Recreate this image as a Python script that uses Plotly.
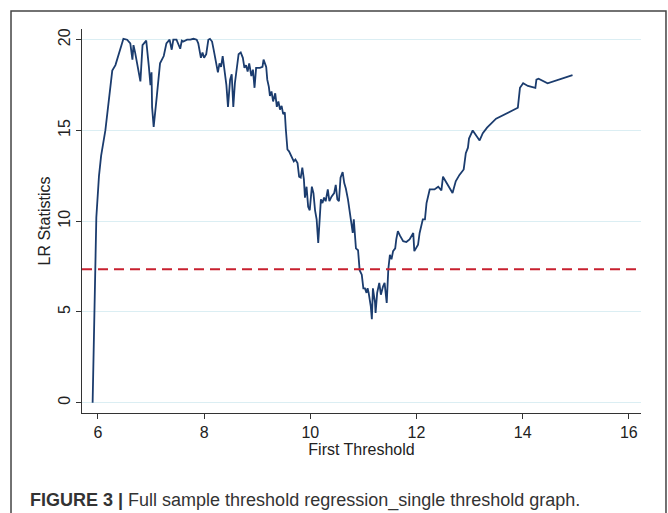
import plotly.graph_objects as go

threshold_x = [
    5.90, 5.92, 5.94, 5.97, 6.02, 6.06, 6.14, 6.27, 6.33, 6.48, 6.55, 6.61, 6.65, 6.67, 6.70,
    6.80, 6.84, 6.91, 6.96, 6.99, 7.01, 7.02, 7.05, 7.08, 7.11, 7.17, 7.24, 7.29, 7.35, 7.39,
    7.42, 7.48, 7.55, 7.58, 7.61, 7.68, 7.74, 7.80, 7.86, 7.89, 7.94, 7.97, 8.00, 8.04, 8.08,
    8.11, 8.15, 8.18, 8.21, 8.24, 8.26, 8.29, 8.32, 8.35, 8.38, 8.42, 8.45, 8.49, 8.52, 8.55,
    8.58, 8.62, 8.65, 8.69, 8.73, 8.76, 8.79, 8.82, 8.85, 8.89, 8.92, 8.95, 8.98, 9.05, 9.10,
    9.12, 9.17, 9.19, 9.22, 9.24, 9.27, 9.30, 9.34, 9.37, 9.40, 9.43, 9.46, 9.49, 9.52, 9.54,
    9.57, 9.60, 9.63, 9.66, 9.69, 9.72, 9.76, 9.79, 9.82, 9.85, 9.88, 9.90, 9.93, 9.96, 9.99,
    10.03, 10.06, 10.09, 10.12, 10.15, 10.17, 10.20, 10.23, 10.26, 10.29, 10.33, 10.36, 10.40,
    10.45, 10.48, 10.51, 10.54, 10.57, 10.61, 10.64, 10.67, 10.71, 10.75, 10.80, 10.82, 10.86,
    10.90, 10.93, 10.97, 11.00, 11.03, 11.06, 11.08, 11.10, 11.14, 11.16, 11.18, 11.22, 11.23,
    11.26, 11.30, 11.33, 11.37, 11.40, 11.44, 11.45, 11.47, 11.50, 11.53, 11.56, 11.60, 11.62,
    11.65, 11.69, 11.75, 11.81, 11.87, 11.94, 11.96, 12.03, 12.06, 12.12, 12.16, 12.19, 12.25,
    12.34, 12.41, 12.47, 12.50, 12.68, 12.74, 12.81, 12.89, 12.93, 12.97, 12.99, 13.06, 13.19,
    13.25, 13.33, 13.50, 13.91, 13.95, 14.01, 14.10, 14.24, 14.26, 14.30, 14.47, 14.94,
]

lr_stat = [
    0.0, 3.5, 7.4, 10.2, 12.5, 13.6, 15.0, 18.3, 18.6, 20.05, 20.0, 19.8, 18.9, 19.7, 19.3,
    17.7, 19.7, 19.95, 18.5, 17.5, 18.2, 16.3, 15.2, 16.3, 16.9, 18.7, 19.1, 19.8, 20.0, 19.45,
    20.0, 20.0, 19.5, 19.95, 19.9, 20.0, 20.0, 20.05, 20.0, 19.8, 19.0, 19.3, 19.0, 19.2, 20.0,
    20.05, 19.9, 19.45, 18.9, 18.45, 18.2, 18.7, 18.5, 19.1, 18.45, 17.5, 16.3, 17.8, 18.1, 16.3,
    17.6, 18.45, 19.2, 19.3, 19.0, 18.45, 18.6, 18.25, 18.7, 18.0, 18.35, 17.35, 18.45, 18.45, 18.5,
    18.9, 18.5, 17.8, 17.4, 16.9, 17.15, 16.6, 17.05, 16.3, 16.6, 16.15, 16.35, 15.9, 16.0, 15.05,
    13.95, 13.85, 13.65, 13.4, 13.3, 13.4, 13.2, 12.45, 12.4, 12.95, 12.3, 11.3, 11.9, 10.8, 10.6,
    11.9, 11.55, 10.6, 10.1, 8.8, 9.9, 11.2, 11.0, 11.3, 11.1, 11.75, 11.1, 11.35,
    11.55, 12.0, 11.2, 11.1, 12.4, 12.7, 12.1, 11.8, 11.2, 10.45, 9.35, 10.1, 8.5,
    8.4, 7.3, 7.05, 6.3, 6.3, 6.05, 6.3, 6.05, 5.3, 4.6, 6.3, 5.5, 4.95,
    6.05, 6.6, 5.95, 6.4, 6.6, 5.5, 6.5, 7.35, 8.15, 7.9, 8.35, 8.5, 9.0,
    9.45, 9.2, 8.9, 8.85, 9.0, 9.35, 8.35, 8.7, 9.35, 10.1, 10.1, 11.0, 11.75,
    11.75, 11.9, 11.7, 12.45, 11.55, 12.2, 12.55, 12.85, 13.75, 14.05, 14.55, 15.0, 14.45,
    14.85, 15.15, 15.65, 16.25, 17.35, 17.6, 17.45, 17.35, 17.8, 17.85, 17.6, 18.05,
]

critical_value = 7.35

x_ticks = [6, 8, 10, 12, 14, 16]
y_ticks = [0, 5, 10, 15, 20]

FONT = "Liberation Sans, Arial, sans-serif"

fig = go.Figure()
fig.add_trace(go.Scatter(
    x=threshold_x, y=lr_stat, mode="lines",
    line=dict(color="#1b3c6e", width=1.8),
    showlegend=False, hoverinfo="x+y",
))

fig.add_hline(y=critical_value, line=dict(color="#c8202f", width=2, dash="10px,6px"))

# outer frame
fig.add_shape(type="rect", xref="paper", yref="paper",
              x0=-0.127, x1=1.0447, y0=-0.30, y1=1.047,
              line=dict(color="#444444", width=1.5), fillcolor="rgba(0,0,0,0)", layer="below")

fig.add_annotation(
    xref="paper", yref="paper", x=-0.0966, y=-0.2266, xanchor="left", yanchor="middle",
    text="<b>FIGURE 3 |</b> Full sample threshold regression_single threshold graph.",
    showarrow=False, font=dict(family=FONT, size=18, color="#333333"),
)

fig.update_layout(
    width=668, height=513,
    margin=dict(l=82, r=27, t=29, b=100, autoexpand=False),
    paper_bgcolor="white", plot_bgcolor="white",
    font=dict(family=FONT, size=16, color="#222222"),
    xaxis=dict(
        range=[5.70, 16.23], tickvals=x_ticks, ticktext=[str(v) for v in x_ticks],
        showgrid=False, zeroline=False, showline=True, linecolor="#333333", linewidth=1,
        ticks="outside", ticklen=5, tickcolor="#333333", automargin=False,
        title=dict(text="First Threshold", standoff=0, font=dict(size=16)),
        tickfont=dict(size=16),
    ),
    yaxis=dict(
        range=[-0.57, 20.59], tickvals=y_ticks, ticktext=[str(v) for v in y_ticks],
        showgrid=True, gridcolor="#dbeef3", gridwidth=1, zeroline=False,
        showline=True, linecolor="#333333", linewidth=1, automargin=False,
        ticks="outside", ticklen=5, tickcolor="#333333", tickangle=-90,
        title=dict(text="LR Statistics", standoff=0, font=dict(size=16)),
        tickfont=dict(size=16),
    ),
)

fig.write_html(
    "out.html",
    config={"displayModeBar": False},
    post_script="document.body.style.margin='0';document.body.style.overflow='hidden';",
)
